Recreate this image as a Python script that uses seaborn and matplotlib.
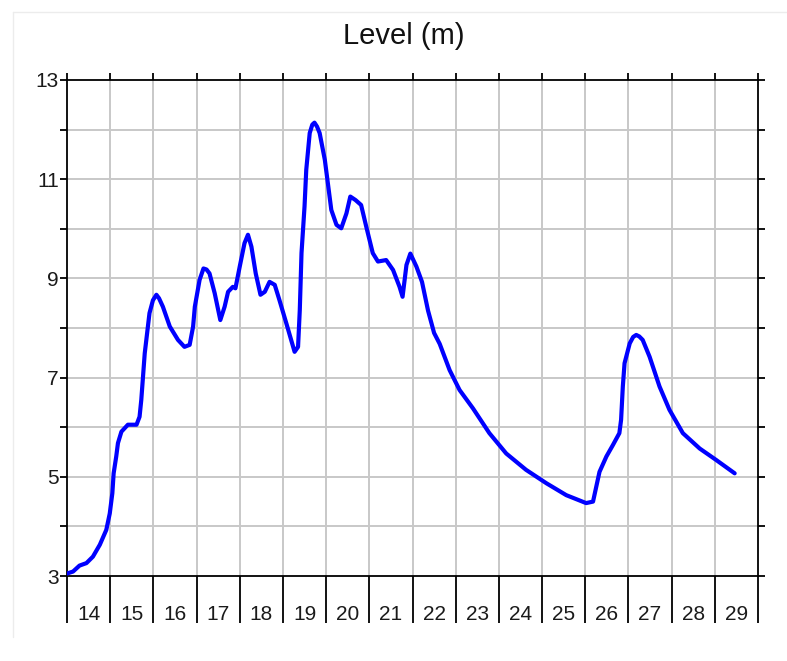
import matplotlib
matplotlib.use("Agg")
import matplotlib.pyplot as plt
from matplotlib.lines import Line2D
from matplotlib.ticker import FixedLocator, NullFormatter
import seaborn as sns
import pandas as pd

# ---- data ----
day = [14.0, 14.14, 14.29, 14.45, 14.6, 14.76, 14.91, 14.99, 15.05, 15.08, 15.14, 15.18,
       15.26, 15.41, 15.61, 15.68, 15.72, 15.8, 15.91, 15.99, 16.07, 16.13, 16.22, 16.38,
       16.57, 16.72, 16.84, 16.92, 16.96, 17.07, 17.16, 17.23, 17.3, 17.42, 17.55, 17.65,
       17.73, 17.84, 17.9, 18.0, 18.11, 18.19, 18.27, 18.37, 18.48, 18.58, 18.69, 18.81,
       18.92, 19.08, 19.27, 19.35, 19.39, 19.43, 19.5, 19.54, 19.62, 19.68, 19.73, 19.79,
       19.85, 19.97, 20.04, 20.12, 20.24, 20.35, 20.47, 20.56, 20.68, 20.81, 20.93, 21.08,
       21.2, 21.39, 21.55, 21.7, 21.77, 21.86, 21.95, 22.09, 22.22, 22.36, 22.5, 22.63,
       22.86, 23.09, 23.4, 23.78, 24.17, 24.63, 25.1, 25.56, 26.02, 26.18, 26.33, 26.49,
       26.64, 26.79, 26.83, 26.87, 26.91, 27.03, 27.11, 27.18, 27.25, 27.33, 27.49, 27.72,
       27.95, 28.26, 28.65, 29.03, 29.46]
level = [3.05, 3.09, 3.21, 3.26, 3.39, 3.63, 3.93, 4.26, 4.67, 5.07, 5.41, 5.68,
         5.91, 6.05, 6.05, 6.21, 6.55, 7.49, 8.3, 8.56, 8.67, 8.6, 8.43, 8.03,
         7.76, 7.62, 7.66, 8.03, 8.43, 8.97, 9.2, 9.18, 9.1, 8.7, 8.16, 8.43,
         8.73, 8.83, 8.8, 9.24, 9.71, 9.88, 9.64, 9.1, 8.67, 8.73, 8.93, 8.87,
         8.56, 8.09, 7.52, 7.62, 8.36, 9.51, 10.45, 11.19, 11.93, 12.1, 12.14, 12.06,
         11.93, 11.39, 10.92, 10.38, 10.08, 10.01, 10.31, 10.65, 10.58, 10.48, 10.04, 9.51,
         9.34, 9.37, 9.17, 8.83, 8.63, 9.27, 9.5, 9.24, 8.93, 8.35, 7.9, 7.68,
         7.15, 6.75, 6.38, 5.88, 5.47, 5.14, 4.87, 4.63, 4.47, 4.5, 5.1, 5.41,
         5.64, 5.88, 6.15, 6.82, 7.29, 7.69, 7.82, 7.86, 7.83, 7.76, 7.42, 6.82,
         6.35, 5.88, 5.57, 5.34, 5.07]
day_labels = [str(d) for d in range(14, 30)]
y_labels = ["3", "5", "7", "9", "11", "13"]
title = "Level (m)"

sns.set_style("white")
plt.rcParams["font.family"] = ["Liberation Sans", "DejaVu Sans"]

W, H = 787, 661
fig = plt.figure(figsize=(W / 100, H / 100), dpi=100)
ax = fig.add_axes([67 / W, 1 - 576 / H, (758 - 67) / W, (576 - 80) / H])

df = pd.DataFrame({"day": day, "level": level})
sns.lineplot(data=df, x="day", y="level", ax=ax, color="#0000ff", lw=3.0,
             estimator=None, sort=False, zorder=5)
for ln in ax.lines:
    ln.set_solid_joinstyle("round")
    ln.set_solid_capstyle("round")

ax.set_xlim(14, 30)
ax.set_ylim(3, 13)
ax.set_xlabel("")
ax.set_ylabel("")

bounds = list(range(14, 31))
ax.xaxis.set_major_locator(FixedLocator(bounds))
ax.xaxis.set_major_formatter(NullFormatter())
ax.set_xticks([d + 0.5 for d in range(14, 30)], minor=True)
ax.set_xticklabels(day_labels, minor=True)
ax.yaxis.set_major_locator(FixedLocator([3, 5, 7, 9, 11, 13]))
ax.set_yticklabels(y_labels)
ax.yaxis.set_minor_locator(FixedLocator([4, 6, 8, 10, 12]))

for v in range(15, 30):
    ax.axvline(v, color="#c8c8c8", lw=1.4, zorder=1)
for v in range(4, 13):
    ax.axhline(v, color="#c8c8c8", lw=1.4, zorder=1)

for s in ax.spines.values():
    s.set_color("black")
    s.set_linewidth(1.3)
    s.set_visible(True)

ax.tick_params(axis="x", which="major", bottom=True, top=False, direction="out",
               length=34, width=1.3, color="black")
ax.tick_params(axis="x", which="minor", bottom=False, top=False, length=0,
               labelsize=15, pad=21, labelcolor="#1a1a1a")
ax.tick_params(axis="y", which="both", left=True, right=True, direction="out",
               length=5, width=1.3, color="black", labelsize=15, pad=1,
               labelcolor="#1a1a1a")

sec = ax.secondary_xaxis("top")
sec.set_xticks(bounds)
sec.set_xticklabels([])
sec.tick_params(direction="out", length=5, width=1.3, color="black")
sec.spines["top"].set_visible(False)

fig.text(404 / W, 1 - 44 / H, title, ha="center", va="baseline", fontsize=21,
         color="#111111")

fig.add_artist(Line2D([13 / W, 13 / W], [1 - 11.5 / H, 1 - 637 / H],
                      transform=fig.transFigure, color="#ececec", lw=1))
fig.add_artist(Line2D([13 / W, 1], [1 - 11.5 / H, 1 - 11.5 / H],
                      transform=fig.transFigure, color="#ececec", lw=1))

fig.savefig("out.png", dpi=100, facecolor="white")
